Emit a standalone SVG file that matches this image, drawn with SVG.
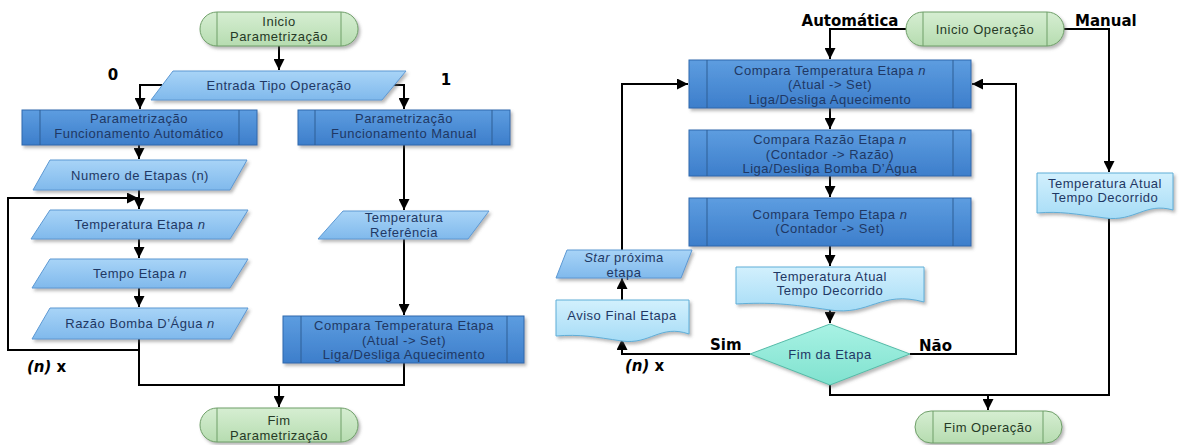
<svg xmlns="http://www.w3.org/2000/svg" width="1182" height="445" viewBox="0 0 1182 445">
<defs>
<linearGradient id="gProc" x1="0" y1="0" x2="0" y2="1"><stop offset="0" stop-color="#5d9de0"/><stop offset="1" stop-color="#3d7ecb"/></linearGradient>
<linearGradient id="gPara" x1="0" y1="0" x2="0" y2="1"><stop offset="0" stop-color="#a8d4f7"/><stop offset="1" stop-color="#80b9ec"/></linearGradient>
<linearGradient id="gTerm" x1="0" y1="0" x2="0" y2="1"><stop offset="0" stop-color="#d6eed2"/><stop offset="1" stop-color="#b6dcb0"/></linearGradient>
<linearGradient id="gDoc" x1="0" y1="0" x2="0" y2="1"><stop offset="0" stop-color="#d2f0fd"/><stop offset="1" stop-color="#a6dcf6"/></linearGradient>
<linearGradient id="gDia" x1="0" y1="0" x2="0" y2="1"><stop offset="0" stop-color="#a8f2e4"/><stop offset="1" stop-color="#80e2cf"/></linearGradient>
<filter id="sh" x="-10%" y="-20%" width="125%" height="150%"><feDropShadow dx="2" dy="2.5" stdDeviation="1.5" flood-color="#666" flood-opacity="0.45"/></filter>
<marker id="ah" viewBox="0 0 10 10" refX="10" refY="5" markerWidth="5.5" markerHeight="5.5" orient="auto" markerUnits="strokeWidth"><path d="M0,0 L10,5 L0,10 Z" fill="#000"/></marker>
</defs>
<style>
.proc{fill:url(#gProc);stroke:#2f69ad;stroke-width:1;filter:url(#sh)}
.para{fill:url(#gPara);stroke:#5c98d3;stroke-width:1;filter:url(#sh)}
.term{fill:url(#gTerm);stroke:#6f9f69;stroke-width:1;filter:url(#sh)}
.doc{fill:url(#gDoc);stroke:#5faed8;stroke-width:1;filter:url(#sh)}
.dia{fill:url(#gDia);stroke:#55bba8;stroke-width:1;filter:url(#sh)}
.in{stroke:#2f5f95;stroke-width:1}
.int{stroke:#6f9f69;stroke-width:1}
.t{font-family:"Liberation Sans",Arial,sans-serif;font-size:13px;letter-spacing:0.5px;fill:#1f3864;text-anchor:middle}
.tg{font-family:"Liberation Sans",Arial,sans-serif;font-size:13px;letter-spacing:0.5px;fill:#263a26;text-anchor:middle}
.b{font-family:"DejaVu Sans",Verdana,sans-serif;font-size:15px;font-weight:bold;fill:#000}
.c{fill:none;stroke:#000;stroke-width:2}
.ca{fill:none;stroke:#000;stroke-width:2;marker-end:url(#ah)}
</style>

<g id="connectors">
<path class="ca" d="M279,46 V70"/>
<path class="ca" d="M162,85 H140 V109"/>
<path class="ca" d="M393,85 H404 V109"/>
<path class="ca" d="M139,145 V159"/>
<path class="ca" d="M139,190 V209"/>
<path class="ca" d="M139,350 H8 V198 H138"/>
<path class="ca" d="M139,239 V258"/>
<path class="ca" d="M139,288 V307"/>
<path class="ca" d="M139,339 V385 H279 V407"/>
<path class="ca" d="M404,145 V210"/>
<path class="ca" d="M404,239 V315"/>
<path class="c" d="M404,363 V385 H279"/>
<path class="ca" d="M906,29 H830 V59"/>
<path class="ca" d="M1064,29 H1109 V172"/>
<path class="ca" d="M830,108 V129"/>
<path class="ca" d="M830,176 V197"/>
<path class="ca" d="M830,246 V266"/>
<path class="ca" d="M830,306 V323"/>
<path class="ca" d="M750,354 H622 V339"/>
<path class="ca" d="M622,303 V278"/>
<path class="ca" d="M622,251 V84 H688"/>
<path class="ca" d="M910,354 H1016 V84 H972"/>
<path class="c" d="M830,385 V395 H1109 V214"/>
<path class="ca" d="M988,395 V410"/>
</g>

<g id="labels">
<text class="b" x="113" y="80" text-anchor="middle">0</text>
<text class="b" x="446" y="85" text-anchor="middle">1</text>
<text class="b" x="27" y="372"><tspan font-style="italic">(n)</tspan> x</text>
<text class="b" x="850" y="26" text-anchor="middle">Automática</text>
<text class="b" x="1075" y="26">Manual</text>
<text class="b" x="710" y="350">Sim</text>
<text class="b" x="919" y="351">Não</text>
<text class="b" x="625" y="371"><tspan font-style="italic">(n)</tspan> x</text>
</g>

<g id="inicio-param">
<rect class="term" x="200" y="12" width="158" height="34" rx="17"/>
<path class="int" d="M217,12 V46 M341,12 V46"/>
<text class="tg" x="279" y="26">Inicio</text>
<text class="tg" x="279" y="40.5">Parametrização</text>
</g>
<g id="entrada">
<polygon class="para" points="173,71 406,71 382,100 151,100"/>
<text class="t" x="279" y="90">Entrada Tipo Operação</text>
</g>
<g id="param-auto">
<rect class="proc" x="22" y="110" width="235" height="35"/>
<path class="in" d="M40,110 V145 M239,110 V145"/>
<text class="t" x="139" y="123">Parametrização</text>
<text class="t" x="139" y="137.5">Funcionamento Automático</text>
</g>
<g id="param-manual">
<rect class="proc" x="298" y="110" width="212" height="35"/>
<path class="in" d="M315,110 V145 M492,110 V145"/>
<text class="t" x="404" y="123">Parametrização</text>
<text class="t" x="404" y="137.5">Funcionamento Manual</text>
</g>
<g id="numero-etapas">
<polygon class="para" points="50,160 247,160 230,190 33,190"/>
<text class="t" x="140" y="180">Numero de Etapas (n)</text>
</g>
<g id="temp-etapa">
<polygon class="para" points="50,210 248,210 230,239 31,239"/>
<text class="t" x="140" y="229">Temperatura Etapa <tspan font-style="italic">n</tspan></text>
</g>
<g id="tempo-etapa">
<polygon class="para" points="50,259 248,259 230,288 32,288"/>
<text class="t" x="140" y="278">Tempo Etapa <tspan font-style="italic">n</tspan></text>
</g>
<g id="razao-bomba">
<polygon class="para" points="50,308 248,308 230,339 32,339"/>
<text class="t" x="140" y="328">Razão Bomba D’Água <tspan font-style="italic">n</tspan></text>
</g>
<g id="temp-ref">
<polygon class="para" points="343,211 489,211 468,239 318,239"/>
<text class="t" x="404" y="222">Temperatura</text>
<text class="t" x="404" y="236.5">Referência</text>
</g>
<g id="compara-temp-left">
<rect class="proc" x="283" y="316" width="241" height="47"/>
<path class="in" d="M301,316 V363 M507,316 V363"/>
<text class="t" x="404" y="330">Compara Temperatura Etapa</text>
<text class="t" x="404" y="344.5">(Atual -&gt; Set)</text>
<text class="t" x="404" y="359">Liga/Desliga Aquecimento</text>
</g>
<g id="fim-param">
<rect class="term" x="200" y="408" width="158" height="34" rx="17"/>
<path class="int" d="M217,408 V442 M341,408 V442"/>
<text class="tg" x="279" y="425">Fim</text>
<text class="tg" x="279" y="439.5">Parametrização</text>
</g>

<g id="inicio-op">
<rect class="term" x="906" y="12" width="158" height="34" rx="17"/>
<path class="int" d="M923,12 V46 M1047,12 V46"/>
<text class="tg" x="985" y="34">Inicio Operação</text>
</g>
<g id="compara-temp">
<rect class="proc" x="689" y="60" width="282" height="48"/>
<path class="in" d="M707,60 V108 M953,60 V108"/>
<text class="t" x="830" y="74.5">Compara Temperatura Etapa <tspan font-style="italic">n</tspan></text>
<text class="t" x="830" y="89">(Atual -&gt; Set)</text>
<text class="t" x="830" y="103.5">Liga/Desliga Aquecimento</text>
</g>
<g id="compara-razao">
<rect class="proc" x="689" y="130" width="282" height="46"/>
<path class="in" d="M707,130 V176 M953,130 V176"/>
<text class="t" x="830" y="144">Compara Razão Etapa <tspan font-style="italic">n</tspan></text>
<text class="t" x="830" y="158.5">(Contador -&gt; Razão)</text>
<text class="t" x="830" y="173">Liga/Desliga Bomba D’Água</text>
</g>
<g id="compara-tempo">
<rect class="proc" x="689" y="198" width="282" height="48"/>
<path class="in" d="M707,198 V246 M953,198 V246"/>
<text class="t" x="830" y="218.5">Compara Tempo Etapa <tspan font-style="italic">n</tspan></text>
<text class="t" x="830" y="233">(Contador -&gt; Set)</text>
</g>
<g id="doc-temp-atual">
<path class="doc" d="M736,267 H924 V302 C880,290 870,316 830,310 C790,304 770,302 736,304 Z"/>
<text class="t" x="830" y="280.5">Temperatura Atual</text>
<text class="t" x="830" y="295">Tempo Decorrido</text>
</g>
<g id="fim-etapa">
<polygon class="dia" points="830,324 910,354 830,385 750,354"/>
<text class="t" x="830" y="359">Fim da Etapa</text>
</g>
<g id="aviso-final">
<path class="doc" d="M556,300 H689 V334 C660,324 650,345 622,341 C595,337 580,334 556,336 Z"/>
<text class="t" x="622" y="320">Aviso Final Etapa</text>
</g>
<g id="star-proxima">
<polygon class="para" points="567,250 692,250 681,278 556,278"/>
<text class="t" x="624" y="262"><tspan font-style="italic">Star</tspan> próxima</text>
<text class="t" x="624" y="276.5">etapa</text>
</g>
<g id="doc-temp-manual">
<path class="doc" d="M1037,173 H1173 V210 C1145,202 1135,222 1105,218 C1075,214 1060,211 1037,213 Z"/>
<text class="t" x="1105" y="187.5">Temperatura Atual</text>
<text class="t" x="1105" y="202">Tempo Decorrido</text>
</g>
<g id="fim-op">
<rect class="term" x="915" y="411" width="147" height="32" rx="16"/>
<path class="int" d="M933,411 V443 M1043,411 V443"/>
<text class="tg" x="988" y="432">Fim Operação</text>
</g>
</svg>
